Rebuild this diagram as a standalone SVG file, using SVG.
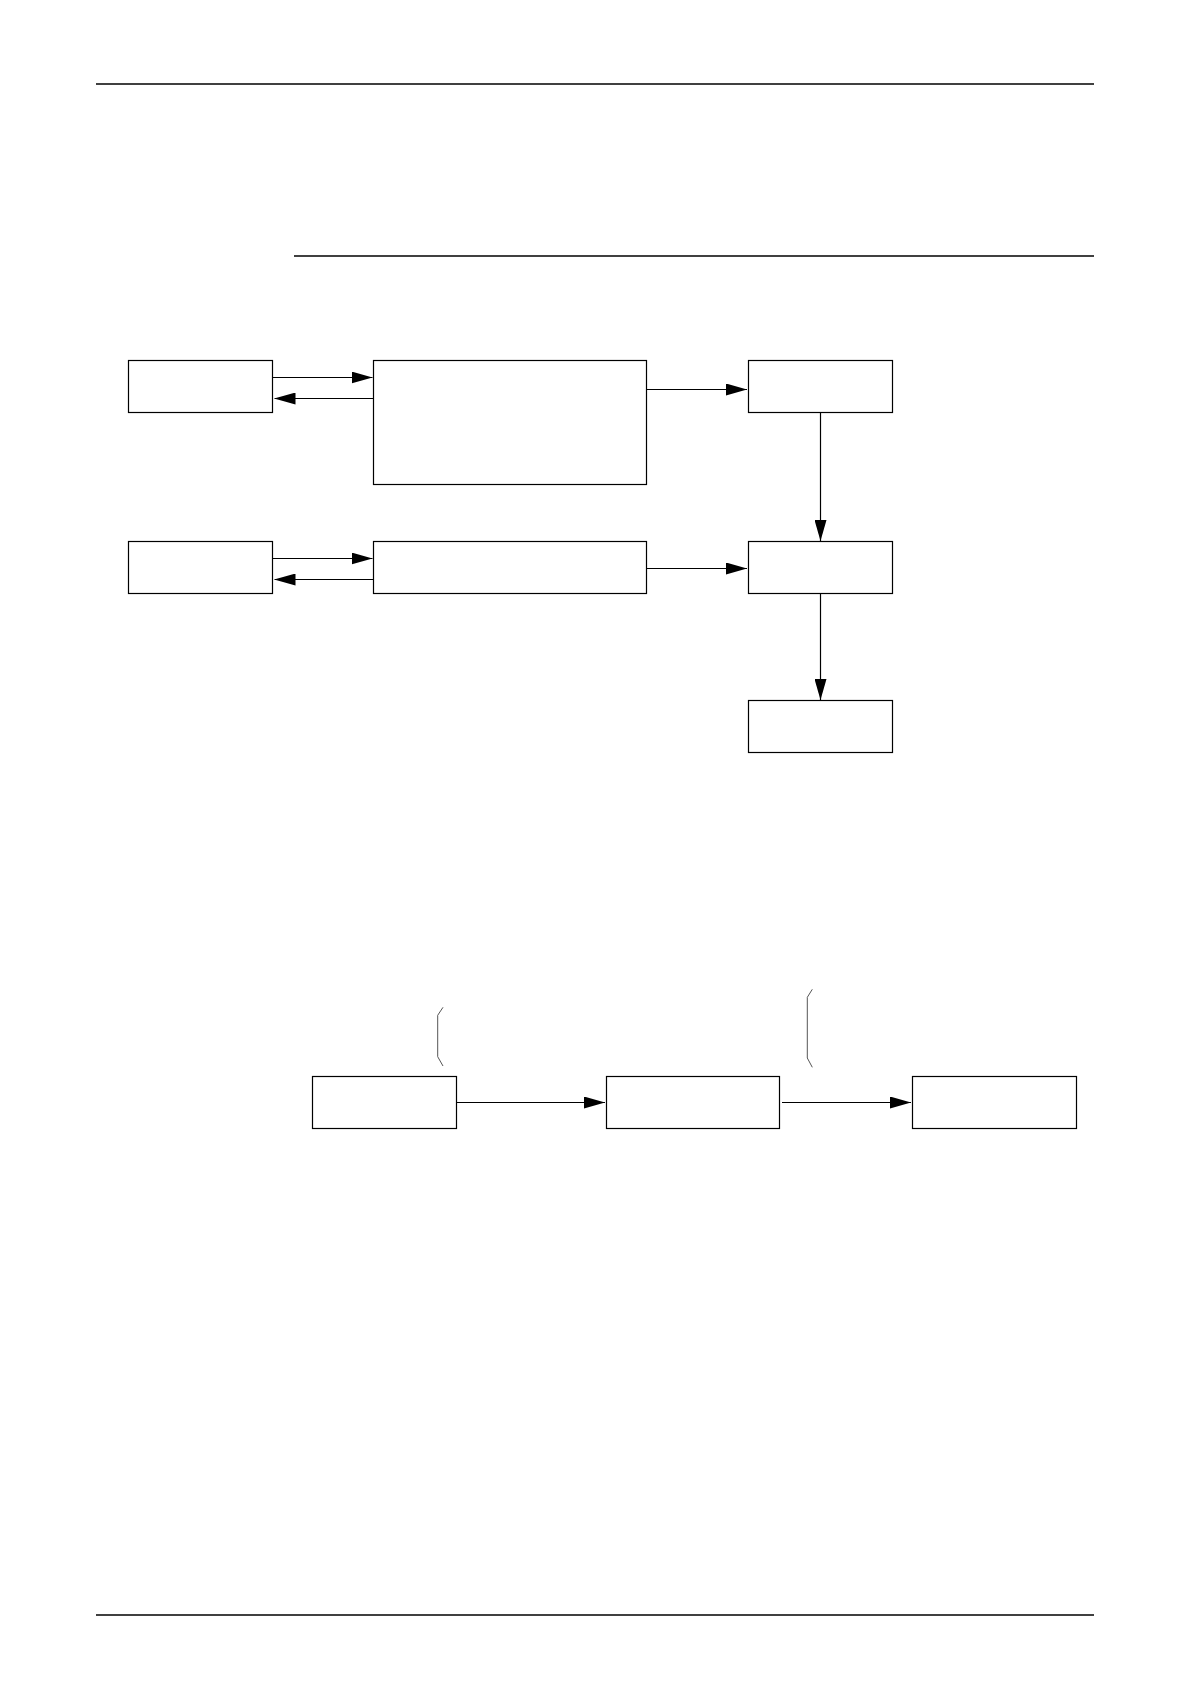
<svg xmlns="http://www.w3.org/2000/svg" width="1190" height="1684" viewBox="0 0 1190 1684">
<style>
.box{fill:#fff;stroke:#000;stroke-width:1.2}
.rule{stroke:#000;stroke-width:1.4}
.con{stroke:#000;stroke-width:1.2;fill:none}
.brk{stroke:#555;stroke-width:1;fill:none}
</style>
<defs>
<marker id="ah" markerUnits="userSpaceOnUse" markerWidth="21" markerHeight="12" refX="21" refY="6" orient="auto">
<path d="M0,0 L21,6 L0,12 z" fill="#000"/>
</marker>
</defs>
<rect width="1190" height="1684" fill="#fff"/>
<g id="rules">
<line class="rule" x1="96" y1="84" x2="1094" y2="84"/>
<line class="rule" x1="294" y1="256" x2="1094" y2="256"/>
<line class="rule" x1="96" y1="1615" x2="1094" y2="1615"/>
</g>
<g id="nodeA1"><rect class="box" x="128.5" y="360.5" width="144" height="52"/></g>
<g id="nodeB1"><rect class="box" x="373.5" y="360.5" width="273" height="124"/></g>
<g id="nodeC"><rect class="box" x="748.5" y="360.5" width="144" height="52"/></g>
<g id="nodeA2"><rect class="box" x="128.5" y="541.5" width="144" height="52"/></g>
<g id="nodeB2"><rect class="box" x="373.5" y="541.5" width="273" height="52"/></g>
<g id="nodeD"><rect class="box" x="748.5" y="541.5" width="144" height="52"/></g>
<g id="nodeE"><rect class="box" x="748.5" y="700.5" width="144" height="52"/></g>
<g id="nodeF"><rect class="box" x="312.5" y="1076.5" width="144" height="52"/></g>
<g id="nodeG"><rect class="box" x="606.5" y="1076.5" width="173" height="52"/></g>
<g id="nodeH"><rect class="box" x="912.5" y="1076.5" width="164" height="52"/></g>
<g id="connectors">
<line class="con" x1="272.5" y1="377.5" x2="372.5" y2="377.5" marker-end="url(#ah)"/>
<line class="con" x1="373" y1="398.5" x2="274.5" y2="398.5" marker-end="url(#ah)"/>
<line class="con" x1="646.5" y1="389.5" x2="747" y2="389.5" marker-end="url(#ah)"/>
<line class="con" x1="820.5" y1="412.5" x2="820.5" y2="541" marker-end="url(#ah)"/>
<line class="con" x1="272.5" y1="558.5" x2="372.5" y2="558.5" marker-end="url(#ah)"/>
<line class="con" x1="373" y1="579.5" x2="274.5" y2="579.5" marker-end="url(#ah)"/>
<line class="con" x1="646.5" y1="568.5" x2="747" y2="568.5" marker-end="url(#ah)"/>
<line class="con" x1="820.5" y1="593.5" x2="820.5" y2="700" marker-end="url(#ah)"/>
<line class="con" x1="456.5" y1="1102.5" x2="605" y2="1102.5" marker-end="url(#ah)"/>
<line class="con" x1="782" y1="1102.5" x2="911" y2="1102.5" marker-end="url(#ah)"/>
</g>
<g id="brackets">
<polyline class="brk" points="443,1007.3 437.7,1015.3 437.7,1056.7 443,1066"/>
<polyline class="brk" points="812.3,989.3 807.3,997.3 807.3,1058 812.3,1067.3"/>
</g>
</svg>
